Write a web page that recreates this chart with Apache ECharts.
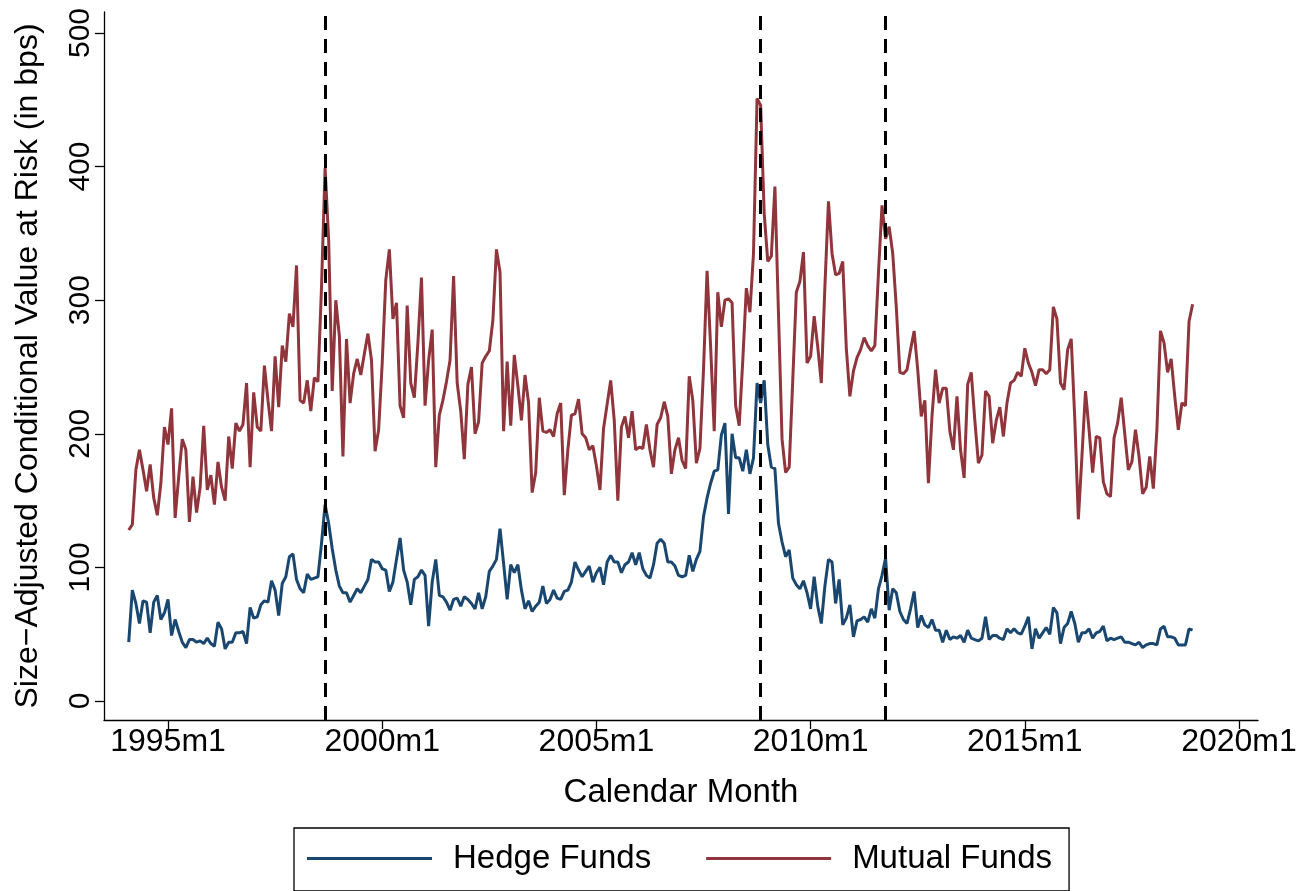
<!DOCTYPE html>
<html>
<head>
<meta charset="utf-8">
<script src="https://cdn.jsdelivr.net/npm/echarts@6/dist/echarts.min.js"></script>
<style>
html,body{margin:0;padding:0;background:#fff;}
#chart{width:1312px;height:891px;}
</style>
</head>
<body>
<div id="chart"></div>
<script>
// Monthly data, 1994m2 .. 2018m12
const startYear = 1994, startMonth = 2;
const hedgeFunds = [
44,83,73,58,75,74,51,74,79,61,
66,76,49,61,52,44,40,46,46,44,
45,43,47,43,41,59,54,39,44,44,
51,51,52,43,70,62,63,72,75,74,
90,83,64,88,93,108,110,91,84,81,
95,91,92,93,118,147,133,114,98,86,
81,81,74,79,84,81,86,91,106,104,
104,99,98,82,89,106,122,98,89,72,
91,93,98,94,56,89,106,79,78,74,
68,76,77,71,78,76,73,69,81,69,
78,97,101,106,129,103,76,102,96,102,
83,69,75,67,71,74,86,73,76,83,
77,76,82,83,89,104,98,93,97,101,
89,96,100,87,104,109,104,104,96,102,
104,111,102,111,99,94,92,102,118,121,
118,104,104,101,94,93,94,109,97,106,
112,138,152,163,172,173,199,208,140,200,
182,182,172,188,170,182,238,223,240,192,
175,174,133,119,108,113,92,87,84,90,
81,69,93,71,58,86,106,104,73,91,
57,62,72,48,60,61,63,59,69,62,
84,94,107,68,84,81,67,61,58,69,
82,55,64,57,55,61,53,53,44,53,
46,48,47,49,44,53,47,46,45,47,
63,46,49,49,47,46,54,51,54,51,
50,56,63,39,54,47,51,55,50,70,
66,43,55,58,67,58,44,51,51,54,
47,51,52,56,45,47,46,47,48,44,
44,43,42,44,40,42,43,43,42,54,
56,48,48,47,42,42,42,54,53
];
const mutualFunds = [
128,132,173,188,173,157,177,152,139,163,
205,192,219,137,168,196,188,134,168,141,
160,206,158,169,147,179,160,150,198,174,
208,202,207,238,175,231,205,202,251,225,
202,258,220,266,254,290,280,326,225,223,
240,217,242,239,310,399,345,232,300,273,
183,271,223,245,256,244,260,275,255,187,
203,253,315,338,286,298,221,212,296,238,
227,268,317,221,255,278,175,214,225,239,
255,318,238,217,181,237,250,200,209,253,
258,262,285,338,321,202,254,206,259,236,
210,244,223,156,171,227,202,201,203,198,
215,223,154,188,214,215,226,200,197,188,
191,176,158,204,222,240,210,150,205,213,
197,217,188,190,189,207,188,175,207,212,
224,213,170,188,197,180,174,243,225,178,
189,248,322,265,202,306,280,300,301,298,
221,206,255,309,291,335,451,446,365,329,
333,385,290,196,171,175,240,306,314,336,
253,258,288,265,238,310,374,335,319,320,
329,264,228,247,257,263,272,266,262,266,
320,371,346,355,335,295,246,245,248,263,
277,248,213,225,163,213,248,223,234,234,
202,188,228,188,167,237,246,210,178,184,
232,228,193,210,220,198,223,238,240,246,
243,264,253,246,236,248,248,245,248,295,
286,238,233,263,271,211,136,183,232,203,
171,198,197,164,155,153,197,208,227,200,
173,179,203,183,155,160,183,159,203,277,
268,246,256,228,203,223,221,284,297
];
// Event lines (calendar months)
const eventMonths = ['1998m9', '2008m11', '2011m10'];
const xTickLabels = ['1995m1', '2000m1', '2005m1', '2010m1', '2015m1', '2020m1'];
const yTickValues = [0, 100, 200, 300, 400, 500];

// Stata-style monthly date: months since 1960m1
function monthIndex(s) {
  const [y, m] = s.split('m').map(Number);
  return (y - 1960) * 12 + (m - 1);
}
const start = (startYear - 1960) * 12 + (startMonth - 1);
const hedgeData = hedgeFunds.map((v, i) => [start + i, v]);
const mutualData = mutualFunds.map((v, i) => [start + i, v]);
const xTickValues = xTickLabels.map(monthIndex);

const FONT = '"Liberation Sans", Arial, Helvetica, sans-serif';
const chart = echarts.init(document.getElementById('chart'), null, {renderer: 'canvas'});
chart.setOption({
  animation: false,
  backgroundColor: '#fff',
  textStyle: {fontFamily: FONT, color: '#000'},
  grid: {left: 104, right: 54, top: 12, bottom: 171, containLabel: false},
  xAxis: {
    type: 'value',
    min: 402.07, max: 725.32,
    name: 'Calendar Month',
    nameLocation: 'middle',
    nameGap: 56,
    nameTextStyle: {fontSize: 33, color: '#000', fontFamily: FONT},
    axisLine: {show: true, onZero: false, lineStyle: {color: '#000', width: 1.3}},
    axisTick: {show: true, length: 9, customValues: xTickValues, lineStyle: {color: '#000', width: 1.3}},
    axisLabel: {
      customValues: xTickValues, fontSize: 32, color: '#000', fontFamily: FONT, margin: 6,
      formatter: v => (1960 + Math.floor(v / 12)) + 'm' + (v % 12 + 1)
    },
    splitLine: {show: false}
  },
  yAxis: {
    type: 'value',
    min: -14.22, max: 515.7,
    name: 'Size\u2212Adjusted Conditional Value at Risk (in bps)',
    nameLocation: 'middle',
    nameRotate: 90,
    nameGap: 60,
    nameTextStyle: {fontSize: 32, color: '#000', fontFamily: FONT},
    axisLine: {show: true, onZero: false, lineStyle: {color: '#000', width: 1.3}},
    axisTick: {show: true, length: 9, customValues: yTickValues, lineStyle: {color: '#000', width: 1.3}},
    axisLabel: {customValues: yTickValues, rotate: 90, fontSize: 30, color: '#000', fontFamily: FONT, margin: 8},
    splitLine: {show: false}
  },
  legend: {
    left: 294, top: 828,
    orient: 'horizontal',
    icon: 'rect',
    itemWidth: 125, itemHeight: 3,
    itemGap: 55,
    padding: [14, 17, 16, 13],
    borderColor: '#000', borderWidth: 1.3,
    textStyle: {fontSize: 33, color: '#000', fontFamily: FONT, padding: [0, 0, 0, 16]},
    data: ['Hedge Funds', 'Mutual Funds']
  },
  series: [
    {
      name: 'Hedge Funds', type: 'line', data: hedgeData,
      showSymbol: false, symbol: 'none',
      lineStyle: {color: '#1A476F', width: 3},
      itemStyle: {color: '#1A476F'},
      markLine: {
        silent: true, symbol: 'none',
        label: {show: false},
        lineStyle: {color: '#000', width: 3, type: [14, 9]},
        data: eventMonths.map(m => ({xAxis: monthIndex(m)}))
      },
      z: 3
    },
    {
      name: 'Mutual Funds', type: 'line', data: mutualData,
      showSymbol: false, symbol: 'none',
      lineStyle: {color: '#90353B', width: 3},
      itemStyle: {color: '#90353B'},
      z: 2
    }
  ]
});
</script>
</body>
</html>
